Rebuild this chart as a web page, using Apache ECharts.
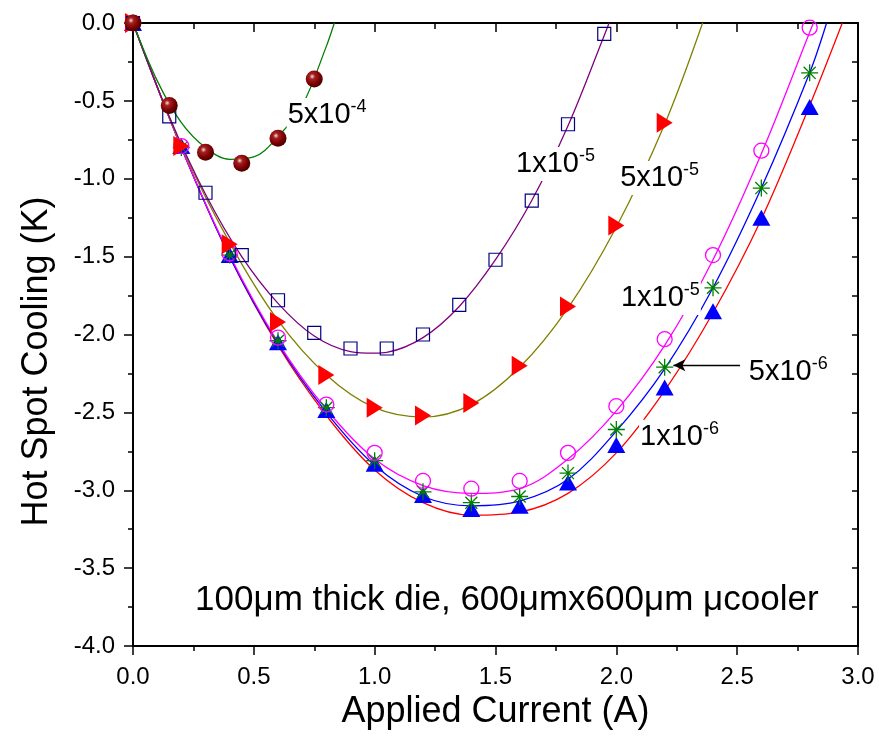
<!DOCTYPE html>
<html>
<head>
<meta charset="utf-8">
<script src="https://cdn.jsdelivr.net/npm/echarts@6/dist/echarts.min.js"></script>
<style>
  html, body { margin: 0; padding: 0; background: #fff; }
  #chart { width: 879px; height: 754px; }
</style>
</head>
<body>
<div id="chart"></div>
<script>
// ---- measured points (Applied Current in A, Hot Spot Cooling in K) ----
const xSpheres = [0, 0.15, 0.3, 0.45, 0.6, 0.75];
const ySpheres = [0, -0.53, -0.83, -0.90, -0.74, -0.36];

const xSquares = [0, 0.15, 0.3, 0.45, 0.6, 0.75, 0.9, 1.05, 1.2, 1.35, 1.5, 1.65, 1.8, 1.95];
const ySquares = [0, -0.60, -1.09, -1.49, -1.78, -1.99, -2.09, -2.09, -2.00, -1.81, -1.52, -1.14, -0.65, -0.07];

const xRightTri = [0, 0.2, 0.4, 0.6, 0.8, 1.0, 1.2, 1.4, 1.6, 1.8, 2.0, 2.2];
const yRightTri = [0, -0.79, -1.42, -1.92, -2.26, -2.47, -2.52, -2.44, -2.20, -1.82, -1.30, -0.64];

const xLow = [0, 0.2, 0.4, 0.6, 0.8, 1.0, 1.2, 1.4, 1.6, 1.8, 2.0, 2.2, 2.4, 2.6, 2.8];
const yCircles   = [0, -0.79, -1.48, -2.02, -2.45, -2.76, -2.94, -2.99, -2.94, -2.76, -2.46, -2.03, -1.49, -0.82, -0.03];
const yAsterisks = [0, -0.80, -1.49, -2.04, -2.47, -2.81, -3.01, -3.08, -3.04, -2.89, -2.61, -2.21, -1.70, -1.06, -0.32];
const yUpTri     = [0, -0.79, -1.49, -2.05, -2.485, -2.83, -3.03, -3.12, -3.10, -2.95, -2.71, -2.34, -1.85, -1.25, -0.54];

// ---- fitted curves ----
const xFit5e4 = [0, 0.1, 0.2, 0.3, 0.4, 0.5, 0.6, 0.7, 0.8, 0.833];
const yFit5e4 = [0, -0.37, -0.64, -0.80, -0.875, -0.86, -0.73, -0.53, -0.15, 0];

const xFit1e5a = [0, 0.15, 0.3, 0.45, 0.6, 0.75, 0.9, 1.0, 1.05, 1.2, 1.35, 1.5, 1.65, 1.8, 1.95, 1.97];
const yFit1e5a = [0, -0.60, -1.10, -1.50, -1.80, -2.01, -2.11, -2.12, -2.115, -2.02, -1.82, -1.52, -1.14, -0.66, -0.08, 0];

const xFit5e5 = [0, 0.2, 0.4, 0.6, 0.8, 1.0, 1.2, 1.4, 1.6, 1.8, 2.0, 2.2, 2.357];
const yFit5e5 = [0, -0.79, -1.41, -1.91, -2.26, -2.47, -2.53, -2.45, -2.21, -1.83, -1.31, -0.65, 0];

const xFit1e5b = [0, 0.2, 0.4, 0.6, 0.8, 1.0, 1.2, 1.4, 1.6, 1.8, 2.0, 2.2, 2.4, 2.6, 2.8, 2.815];
const yFit1e5b = [0, -0.80, -1.49, -2.05, -2.48, -2.80, -2.97, -3.02, -2.99, -2.80, -2.49, -2.07, -1.52, -0.84, -0.06, 0];

const xFit5e6 = [0, 0.2, 0.4, 0.6, 0.8, 1.0, 1.2, 1.4, 1.6, 1.8, 2.0, 2.2, 2.4, 2.6, 2.8, 2.87];
const yFit5e6 = [0, -0.80, -1.50, -2.06, -2.50, -2.84, -3.04, -3.10, -3.07, -2.93, -2.62, -2.22, -1.70, -1.06, -0.32, 0];

const xFit1e6 = [0, 0.2, 0.4, 0.6, 0.8, 1.0, 1.2, 1.4, 1.6, 1.8, 2.0, 2.2, 2.4, 2.6, 2.8, 2.935];
const yFit1e6 = [0, -0.80, -1.50, -2.07, -2.52, -2.87, -3.08, -3.16, -3.14, -3.02, -2.76, -2.36, -1.86, -1.26, -0.53, 0];

// ---- text annotations (placed in data coordinates: left edge, vertical middle) ----
const curveLabels = [
  { base: '5x10', exp: '-4', x: 0.636, y: -0.591 },
  { base: '1x10', exp: '-5', x: 1.581, y: -0.905 },
  { base: '5x10', exp: '-5', x: 2.012, y: -0.995 },
  { base: '1x10', exp: '-5', x: 2.015, y: -1.766 },
  { base: '5x10', exp: '-6', x: 2.544, y: -2.241 },
  { base: '1x10', exp: '-6', x: 2.094, y: -2.656 }
];
const noteText = '100\u03bcm thick die, 600\u03bcmx600\u03bcm \u03bccooler';
const notePos = [0.257, -3.705];
const arrowFrom = [2.512, -2.198];
const arrowTo = [2.236, -2.198];

const xTicks = { min: 0, max: 3, interval: 0.5 };
const yTicks = { min: -4, max: 0, interval: 0.5 };

const FONT = '"Liberation Sans", Arial, Helvetica, sans-serif';

function pairs(xs, ys) { return xs.map((x, i) => [x, ys[i]]); }

function fitLine(name, xs, ys, color) {
  return {
    name, type: 'line', data: pairs(xs, ys), smooth: 0.35, showSymbol: false,
    symbol: 'none', lineStyle: { color, width: 1.3 }, z: 2, silent: true,
    animation: false
  };
}

function markers(name, xs, ys, opts) {
  const s = Object.assign({
    name, type: 'scatter', data: pairs(xs, ys), animation: false, silent: true
  }, opts);
  s.itemStyle = Object.assign({ opacity: 1 }, s.itemStyle || {});
  return s;
}

const chart = echarts.init(document.getElementById('chart'), null, { renderer: 'canvas' });

const axisLine = { show: true, onZero: false, lineStyle: { color: '#000', width: 2 } };

const option = {
  backgroundColor: '#fff',
  animation: false,
  grid: { left: 133, right: 21, top: 23, bottom: 108, containLabel: false },
  xAxis: [
    {
      type: 'value', position: 'bottom', min: xTicks.min, max: xTicks.max, interval: xTicks.interval,
      axisLine,
      axisTick: { show: true, inside: false, length: 9, lineStyle: { color: '#000', width: 1.5 } },
      minorTick: { show: true, splitNumber: 2, length: 5, lineStyle: { color: '#000', width: 1.5 } },
      splitLine: { show: false },
      axisLabel: { color: '#000', fontSize: 24, fontFamily: FONT, margin: 19,
        formatter: v => v.toFixed(1) },
      name: 'Applied Current (A)', nameLocation: 'middle', nameGap: 44,
      nameTextStyle: { color: '#000', fontSize: 36, fontFamily: FONT }
    },
    {
      type: 'value', position: 'top', min: xTicks.min, max: xTicks.max, interval: xTicks.interval,
      axisLine,
      axisTick: { show: true, inside: true, length: 9, lineStyle: { color: '#000', width: 1.5 } },
      minorTick: { show: true, splitNumber: 2, length: 6, lineStyle: { color: '#000', width: 1.5 } },
      splitLine: { show: false }, axisLabel: { show: false }
    }
  ],
  yAxis: [
    {
      type: 'value', position: 'left', min: yTicks.min, max: yTicks.max, interval: yTicks.interval,
      axisLine,
      axisTick: { show: true, inside: false, length: 9, lineStyle: { color: '#000', width: 1.5 } },
      minorTick: { show: true, splitNumber: 2, length: 5, lineStyle: { color: '#000', width: 1.5 } },
      splitLine: { show: false },
      axisLabel: { color: '#000', fontSize: 24, fontFamily: FONT, margin: 18,
        formatter: v => v.toFixed(1) },
      name: 'Hot Spot Cooling (K)', nameLocation: 'middle', nameGap: 78, nameRotate: 90,
      nameTextStyle: { color: '#000', fontSize: 36, fontFamily: FONT, padding: [0, 54, 0, 0] }
    },
    {
      type: 'value', position: 'right', min: yTicks.min, max: yTicks.max, interval: yTicks.interval,
      axisLine,
      axisTick: { show: true, inside: true, length: 6, lineStyle: { color: '#000', width: 1.5 } },
      minorTick: { show: true, splitNumber: 2, length: 6, lineStyle: { color: '#000', width: 1.5 } },
      splitLine: { show: false }, axisLabel: { show: false }
    }
  ],
  series: [
    fitLine('fit 1x10-6', xFit1e6, yFit1e6, '#ff0000'),
    fitLine('fit 5x10-6', xFit5e6, yFit5e6, '#0000ff'),
    fitLine('fit 1x10-5 b', xFit1e5b, yFit1e5b, '#ff00ff'),
    fitLine('fit 5x10-5', xFit5e5, yFit5e5, '#808000'),
    fitLine('fit 1x10-5 a', xFit1e5a, yFit1e5a, '#800080'),
    fitLine('fit 5x10-4', xFit5e4, yFit5e4, '#008000'),

    markers('1x10-6', xLow, yUpTri, {
      symbol: 'triangle', symbolSize: [18, 16], z: 3,
      itemStyle: { color: '#0000ff' }
    }),
    markers('5x10-6', xLow, yAsterisks, {
      symbol: 'path://M8,0L8,16M0,8L16,8M2.34,2.34L13.66,13.66M13.66,2.34L2.34,13.66',
      symbolSize: 17, z: 4,
      itemStyle: { color: 'rgba(0,0,0,0)', borderColor: '#008000', borderWidth: 1.3 },
      markLine: {
        silent: true, symbol: ['none', 'arrow'], symbolSize: [9, 12],
        label: { show: false },
        lineStyle: { color: '#000', width: 1.3, type: 'solid', opacity: 1 },
        data: [[{ coord: arrowFrom }, { coord: arrowTo }]],
        animation: false
      }
    }),
    markers('1x10-5 b', xLow, yCircles, {
      symbol: 'circle', symbolSize: 15, z: 5,
      itemStyle: { color: 'rgba(0,0,0,0)', borderColor: '#ff00ff', borderWidth: 1.3 }
    }),
    markers('5x10-5', xRightTri, yRightTri, {
      symbol: 'triangle', symbolSize: [20, 16], symbolRotate: -90, z: 6,
      itemStyle: { color: '#ff0000' }
    }),
    markers('1x10-5 a', xSquares, ySquares, {
      symbol: 'rect', symbolSize: 13, z: 7,
      itemStyle: { color: 'rgba(0,0,0,0)', borderColor: '#000080', borderWidth: 1.2 }
    }),
    markers('5x10-4', xSpheres, ySpheres, {
      symbol: 'circle', symbolSize: 17, z: 8,
      itemStyle: {
        color: {
          type: 'radial', x: 0.38, y: 0.35, r: 0.65,
          colorStops: [
            { offset: 0, color: '#f4dede' },
            { offset: 0.25, color: '#a52020' },
            { offset: 0.7, color: '#7a0000' },
            { offset: 1, color: '#4a0000' }
          ]
        }
      }
    }),

    // curve labels with superscript exponent, on a white box that hides the curve behind
    {
      name: 'labels', type: 'scatter', symbolSize: 0, z: 10, silent: true, animation: false,
      itemStyle: { opacity: 1 },
      data: curveLabels.map(l => ({ value: [l.x, l.y], base: l.base, exp: l.exp })),
      label: {
        show: true, position: 'right', distance: 0,
        formatter: p => '{b|' + p.data.base + '}{e|' + p.data.exp + '}',
        backgroundColor: '#fff', padding: [0, 1],
        rich: {
          b: { fontSize: 29, fontFamily: FONT, color: '#000', lineHeight: 34 },
          e: { fontSize: 18, fontFamily: FONT, color: '#000', verticalAlign: 'top', lineHeight: 20 }
        }
      }
    },
    {
      name: 'note', type: 'scatter', symbolSize: 0, z: 10, silent: true, animation: false,
      itemStyle: { opacity: 1 },
      data: [{ value: notePos }],
      label: {
        show: true, position: 'right', distance: 0, formatter: noteText,
        fontSize: 35, fontFamily: FONT, color: '#000'
      }
    }
  ]
};

chart.setOption(option);
</script>
</body>
</html>
